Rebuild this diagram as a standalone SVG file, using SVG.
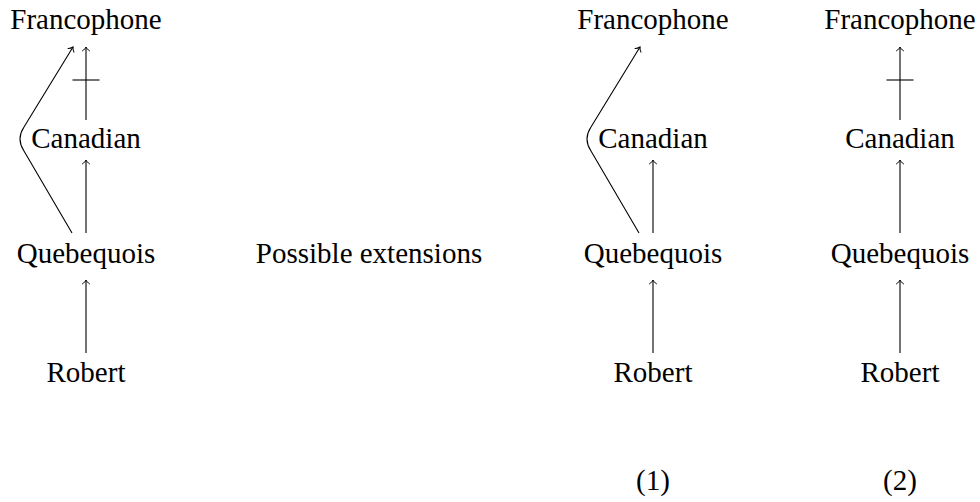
<svg xmlns="http://www.w3.org/2000/svg" width="980" height="502" viewBox="0 0 980 502">
<style>
text{font-family:"Liberation Serif","Times New Roman",serif;font-size:29px;fill:#000;text-anchor:middle}
.e{fill:none;stroke:#000;stroke-width:1.1}
.a{marker-end:url(#arr)}
</style>
<defs>
<marker id="arr" markerUnits="userSpaceOnUse" markerWidth="12" markerHeight="12" viewBox="-6 -6 12 12" refX="0" refY="0" orient="auto" overflow="visible">
<path d="M-4,-3.8 C-2.8,-1.6 -0.6,-0.3 0,0 C-0.6,0.3 -2.8,1.6 -4,3.8" fill="none" stroke="#000" stroke-width="1"/>
</marker>
</defs>
<rect width="980" height="502" fill="#fff"/>
<g id="d1-francophone"><text x="86" y="29">Francophone</text></g>
<g id="d1-canadian"><text x="86" y="148">Canadian</text></g>
<g id="d1-quebequois"><text x="86" y="263">Quebequois</text></g>
<g id="d1-robert"><text x="86" y="382">Robert</text></g>
<g id="label-possible"><text x="369" y="263">Possible extensions</text></g>
<g id="d2-francophone"><text x="653" y="29">Francophone</text></g>
<g id="d2-canadian"><text x="653" y="148">Canadian</text></g>
<g id="d2-quebequois"><text x="653" y="263">Quebequois</text></g>
<g id="d2-robert"><text x="653" y="382">Robert</text></g>
<g id="label-1"><text x="653" y="490">(1)</text></g>
<g id="d3-francophone"><text x="900" y="29">Francophone</text></g>
<g id="d3-canadian"><text x="900" y="148">Canadian</text></g>
<g id="d3-quebequois"><text x="900" y="263">Quebequois</text></g>
<g id="d3-robert"><text x="900" y="382">Robert</text></g>
<g id="label-2"><text x="900" y="490">(2)</text></g>
<g id="connectors">
<!-- diagram 1 -->
<path class="e a" d="M86,353 V280"/>
<path class="e a" d="M86,233 V160"/>
<path class="e a" d="M86,120 V47"/>
<path class="e" d="M72.5,80 H99.5"/>
<path class="e a" d="M72,233 L24,151 Q16,139 24,127 L73,47"/>
<!-- diagram 2 -->
<path class="e a" d="M653,353 V280"/>
<path class="e a" d="M653,233 V160"/>
<path class="e a" d="M639,233 L591,151 Q583,139 591,127 L640,47"/>
<!-- diagram 3 -->
<path class="e a" d="M900,353 V280"/>
<path class="e a" d="M900,233 V160"/>
<path class="e a" d="M900,120 V47"/>
<path class="e" d="M886.5,80 H913.5"/>
</g>
</svg>
